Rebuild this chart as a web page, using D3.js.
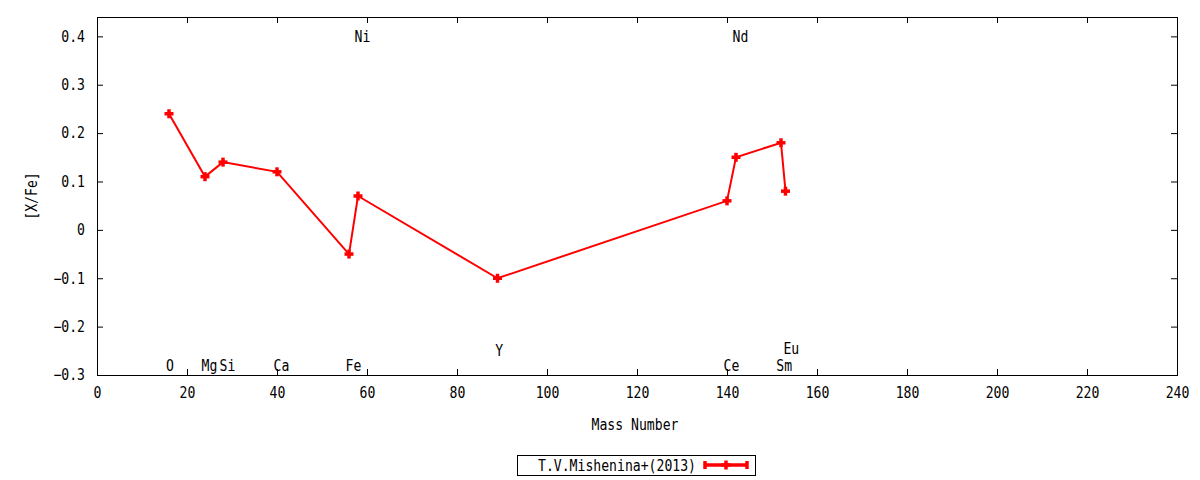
<!DOCTYPE html>
<html>
<head>
<meta charset="utf-8">
<script src="https://cdn.jsdelivr.net/npm/d3@7"></script>
<style>
	body { margin: 0; background: #fff; }
	svg text { font-family: "DejaVu Sans Mono", monospace; font-size: 15px; fill: #000; }
	.border { fill: none; stroke: #000; stroke-width: 1; }
	.tick line { stroke: #000; }
</style>
</head>
<body>
<svg id="chart" width="1200" height="480"></svg>
<script>
// abundance ratios, Mishenina et al. (2013)
var elements = ['O', 'Mg', 'Si', 'Ca', 'Fe', 'Ni', 'Y', 'Ce', 'Nd', 'Sm', 'Eu'];
var massNumber = [16, 24, 28, 40, 56, 58, 89, 140, 142, 152, 153];
var xFe = [0.24, 0.11, 0.14, 0.12, -0.05, 0.07, -0.10, 0.06, 0.15, 0.18, 0.08];

// where each element name is written
var labelMass = [16.2, 25, 29, 41, 57, 59, 89.4, 141, 143, 152.7, 154.3];
var labelY = [-0.28, -0.28, -0.28, -0.28, -0.28, 0.4, -0.25, -0.28, 0.4, -0.28, -0.246];

var xTicks = d3.range(0, 241, 20);
var yTicks = [-0.3, -0.2, -0.1, 0, 0.1, 0.2, 0.3, 0.4];
var seriesName = 'T.V.Mishenina+(2013)';

document.addEventListener("DOMContentLoaded", function() {

	var svg = d3.select('#chart');
	var left = 97, right = 1177, top = 17, bottom = 375;

	var x = d3.scaleLinear().domain([0, 240]).range([left, right]);
	var y = d3.scaleLinear().domain([-0.3, 0.44]).range([bottom, top]);

	var pts = elements.map(function(e, i) { return {el: e, m: massNumber[i], v: xFe[i]}; });

	// ticks, mirrored on all four sides, pointing inward
	svg.append('g').attr('class', 'tick')
		.attr('transform', 'translate(0,' + bottom + ')')
		.call(d3.axisBottom(x).tickValues(xTicks).tickSizeInner(-6).tickSizeOuter(0).tickPadding(12))
		.call(g => g.select('.domain').remove())
		.call(g => g.selectAll('text').attr('font-size', null).attr('font-family', null));

	svg.append('g').attr('class', 'tick')
		.attr('transform', 'translate(0,' + top + ')')
		.call(d3.axisTop(x).tickValues(xTicks).tickSizeInner(-6).tickSizeOuter(0).tickFormat(''))
		.call(g => g.select('.domain').remove());

	svg.append('g').attr('class', 'tick')
		.attr('transform', 'translate(' + left + ',0)')
		.call(d3.axisLeft(y).tickValues(yTicks).tickSizeInner(-6).tickSizeOuter(0).tickPadding(12)
			.tickFormat(d => d === 0 ? '0' : d3.format('.1f')(d)))
		.call(g => g.select('.domain').remove())
		.call(g => g.selectAll('text').attr('font-size', null).attr('font-family', null));

	svg.append('g').attr('class', 'tick')
		.attr('transform', 'translate(' + right + ',0)')
		.call(d3.axisRight(y).tickValues(yTicks).tickSizeInner(-6).tickSizeOuter(0).tickFormat(''))
		.call(g => g.select('.domain').remove());

	svg.selectAll('.tick line').attr('stroke', '#000');

	svg.append('rect')
		.attr('class', 'border')
		.attr('x', left + 0.5).attr('y', top + 0.5)
		.attr('width', right - left).attr('height', bottom - top);

	// element names
	svg.selectAll('text.elLabel')
		.data(elements)
		.enter()
		.append('text')
		.attr('class', 'elLabel')
		.attr('x', (d, i) => x(labelMass[i]))
		.attr('y', (d, i) => y(labelY[i]))
		.attr('dy', '0.35em')
		.attr('text-anchor', 'middle')
		.text(d => d);

	var line = d3.line().x(d => x(d.m)).y(d => y(d.v));

	svg.append('path')
		.datum(pts)
		.attr('d', line)
		.attr('fill', 'none')
		.attr('stroke', '#ff0000')
		.attr('stroke-width', 2);

	var plus = function(sel, s) {
		sel.append('line').attr('x1', -s).attr('x2', s).attr('y1', 0).attr('y2', 0);
		sel.append('line').attr('x1', 0).attr('x2', 0).attr('y1', -s).attr('y2', s);
	};

	svg.selectAll('g.pt')
		.data(pts)
		.enter()
		.append('g')
		.attr('class', 'pt')
		.attr('transform', d => 'translate(' + x(d.m) + ',' + y(d.v) + ')')
		.attr('stroke', '#ff0000')
		.attr('stroke-width', 3.5)
		.call(plus, 4.5);

	// axis titles
	svg.append('text')
		.attr('x', (left + right) / 2 - 2)
		.attr('y', 430)
		.attr('text-anchor', 'middle')
		.text('Mass Number');

	svg.append('text')
		.attr('transform', 'translate(37,' + (top + bottom) / 2 + ') rotate(-90)')
		.attr('text-anchor', 'middle')
		.text('[X/Fe]');

	// key
	var key = svg.append('g');
	key.append('rect')
		.attr('x', 517.5).attr('y', 455.5)
		.attr('width', 238).attr('height', 20)
		.attr('fill', 'none').attr('stroke', '#000');
	key.append('text')
		.attr('x', 696).attr('y', 471)
		.attr('text-anchor', 'end')
		.text(seriesName);
	var ks = key.append('g').attr('stroke', '#ff0000').attr('stroke-width', 3.5);
	ks.append('line').attr('x1', 705).attr('x2', 747).attr('y1', 465).attr('y2', 465);
	ks.append('line').attr('x1', 705).attr('x2', 705).attr('y1', 461).attr('y2', 469);
	ks.append('line').attr('x1', 747).attr('x2', 747).attr('y1', 461).attr('y2', 469);
	ks.append('g').attr('transform', 'translate(726,465)').call(plus, 4.5);

	// gnuplot's font is a narrow mono: squeeze each string to its width
	svg.selectAll('text').each(function() {
		var t = d3.select(this);
		var n = t.text().length;
		if (n) t.attr('textLength', n * 7.9).attr('lengthAdjust', 'spacingAndGlyphs');
	});
});
</script>
</body>
</html>
